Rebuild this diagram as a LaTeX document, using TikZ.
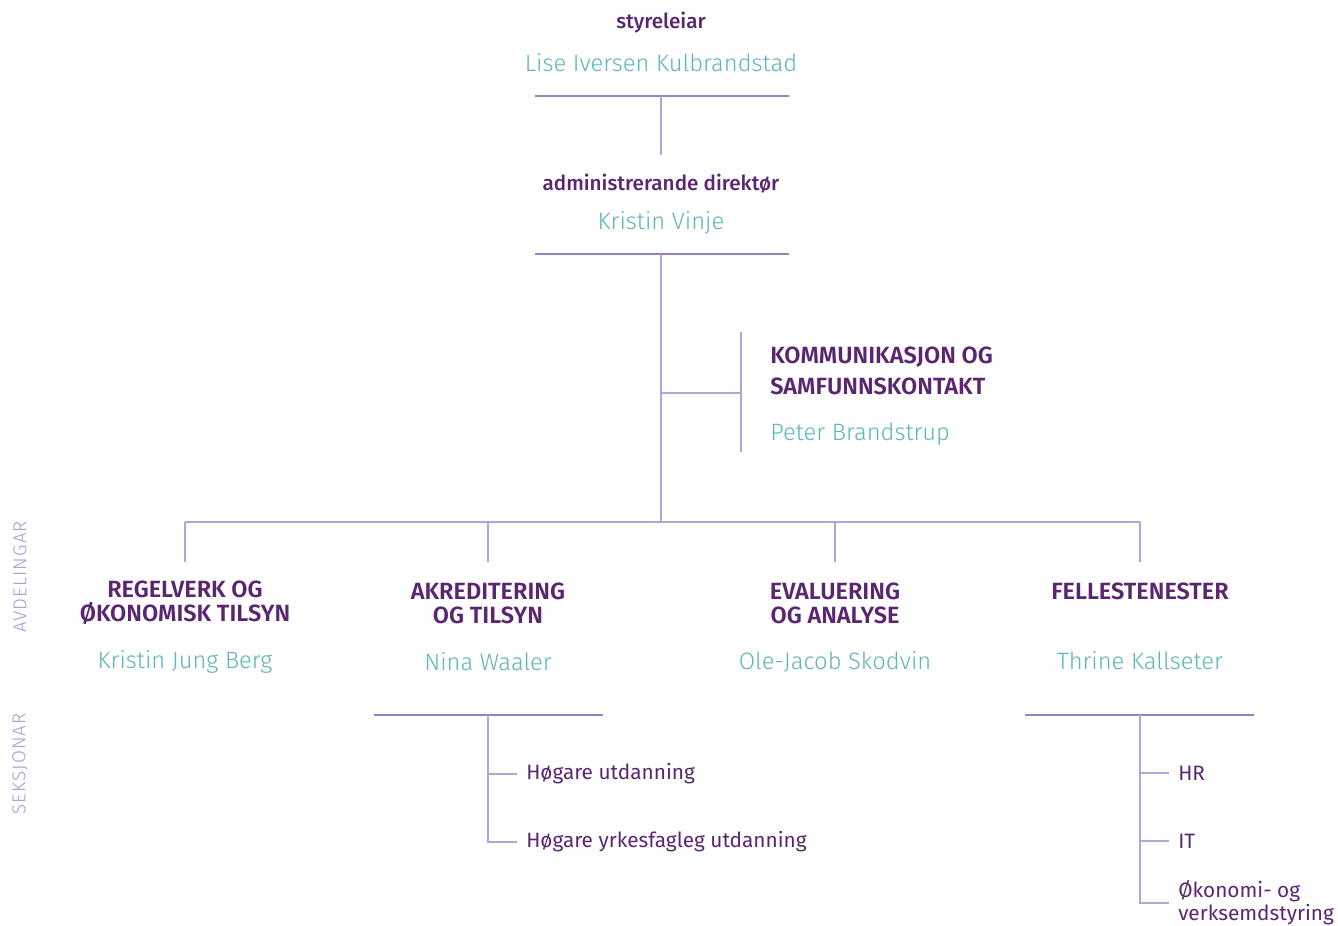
\documentclass[tikz,border=0pt]{standalone}
\usepackage{fontspec}
\setmainfont{Fira Sans}
\newfontfamily\lightfont{Fira Sans Light}
\newfontfamily\spacedfont[LetterSpace=6]{Fira Sans Light}
\newfontfamily\mediumfont{Fira Sans Medium}
\newfontfamily\semiboldfont{Fira Sans SemiBold}
\usetikzlibrary{positioning}
\definecolor{darkpurple}{HTML}{5A2670}
\definecolor{nameteal}{HTML}{5EB5B5}
\definecolor{linepurple}{HTML}{9880C2}
\definecolor{thinpurple}{HTML}{B3A3D6}
\definecolor{labelpurple}{HTML}{A898D2}

\begin{document}
\begin{tikzpicture}[x=0.75pt,y=-0.75pt,
    role/.style={text=darkpurple, font=\mediumfont\fontsize{15.5}{19}\selectfont},
    person/.style={text=nameteal, font=\lightfont\fontsize{17.8}{21}\selectfont},
    dept/.style={text=darkpurple, font=\semiboldfont\fontsize{17.6}{18}\selectfont, align=center},
    unit/.style={text=darkpurple, font=\fontsize{15.6}{17.25}\selectfont, anchor=west, align=left, inner sep=0pt},
    sidelabel/.style={text=labelpurple, font=\spacedfont\fontsize{14}{16}\selectfont, rotate=90},
    bar/.style={draw=linepurple, line width=1.4pt},
    link/.style={draw=thinpurple, line width=1pt}]

    \useasboundingbox (0,0) rectangle (1338,925);

    % side labels
    \node[sidelabel] (avdlabel) at (20,577) {AVDELINGAR};
    \node[sidelabel] (seklabel) at (20,764) {SEKSJONAR};

    % board and director
    \node[role] (leaderrole) at (661,23) {styreleiar};
    \node[person] (leadername) at (661,63) {Lise Iversen Kulbrandstad};
    \node[role] (directorrole) at (661,184) {administrerande direktør};
    \node[person] (directorname) at (661,223) {Kristin Vinje};

    \coordinate (leaderbarl) at (535,96);
    \coordinate (leaderbarr) at (789,96);
    \coordinate (leaderbar) at (661,96);
    \coordinate (directortop) at (661,155);
    \coordinate (directorbarl) at (535,254);
    \coordinate (directorbarr) at (789,254);
    \coordinate (directorbar) at (661,254);

    \draw[bar] (leaderbarl) -- (leaderbarr);
    \draw[link] (leaderbar) -- (directortop);
    \draw[bar] (directorbarl) -- (directorbarr);

    % staff unit
    \node[dept, anchor=west, align=left, inner sep=0pt,
    font=\semiboldfont\fontsize{17.6}{23.25}\selectfont]
    (commtitle) at (770,371) {KOMMUNIKASJON OG\\SAMFUNNSKONTAKT};
    \node[person, anchor=west, inner sep=0pt] (commname) at (770,434) {Peter Brandstrup};

    \coordinate (staffjoin) at (661,393);
    \coordinate (staffjoinr) at (741,393);
    \coordinate (staffbartop) at (741,332);
    \coordinate (staffbarbot) at (741,452);
    \draw[link] (staffjoin) -- (staffjoinr);
    \draw[link] (staffbartop) -- (staffbarbot);

    % departments
    \node[dept] (dept1title) at (185,603) {REGELVERK OG\\ØKONOMISK TILSYN};
    \node[person] (dept1name) at (185,662) {Kristin Jung Berg};
    \node[dept] (dept2title) at (488,603) {AKREDITERING\\OG TILSYN};
    \node[person] (dept2name) at (488,662) {Nina Waaler};
    \node[dept] (dept3title) at (835,603) {EVALUERING\\OG ANALYSE};
    \node[person] (dept3name) at (835,662) {Ole-Jacob Skodvin};
    \node[dept] (dept4title) at (1140,591) {FELLESTENESTER};
    \node[person] (dept4name) at (1140,661) {Thrine Kallseter};

    \coordinate (deptbarl) at (185,522);
    \coordinate (deptbarr) at (1140,522);
    \coordinate (deptjoin) at (661,522);
    \draw[link] (directorbar) -- (deptjoin);
    \draw[link] (deptbarl) -- (deptbarr);
    \foreach \x/\n in {185/1, 488/2, 835/3, 1140/4} {
      \coordinate (dept\n top) at (\x,522);
      \coordinate (dept\n drop) at (\x,562);
      \draw[link] (dept\n top) -- (dept\n drop);
    }

    % sections under akkreditering
    \coordinate (sec2barl) at (374,715);
    \coordinate (sec2barr) at (603,715);
    \coordinate (sec2bar) at (488,715);
    \draw[bar] (sec2barl) -- (sec2barr);
    \node[unit] (sec2a) at (526,774) {Høgare utdanning};
    \node[unit] (sec2b) at (526,842) {Høgare yrkesfagleg utdanning};
    \coordinate (sec2ajoin) at (488,774);
    \coordinate (sec2aend) at (517,774);
    \coordinate (sec2bend) at (517,842);
    \draw[link] (sec2bar) |- (sec2bend);
    \draw[link] (sec2ajoin) -- (sec2aend);

    % sections under fellestenester
    \coordinate (sec4barl) at (1025,715);
    \coordinate (sec4barr) at (1254,715);
    \coordinate (sec4bar) at (1140,715);
    \draw[bar] (sec4barl) -- (sec4barr);
    \node[unit] (sec4a) at (1178,773) {HR};
    \node[unit] (sec4b) at (1178,841) {IT};
    \node[unit] (sec4c) at (1178,903) {Økonomi- og\\verksemdstyring};
    \coordinate (sec4ajoin) at (1140,773);
    \coordinate (sec4aend) at (1169,773);
    \coordinate (sec4bjoin) at (1140,841);
    \coordinate (sec4bend) at (1169,841);
    \coordinate (sec4cend) at (1169,903);
    \draw[link] (sec4bar) |- (sec4cend);
    \draw[link] (sec4ajoin) -- (sec4aend);
    \draw[link] (sec4bjoin) -- (sec4bend);

  \end{tikzpicture}
\end{document}
